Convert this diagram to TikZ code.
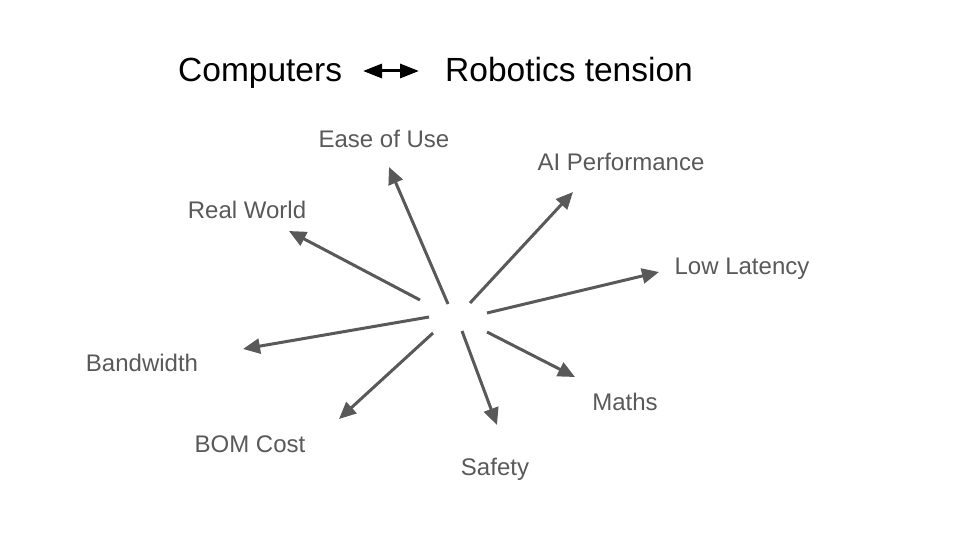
\documentclass[tikz,border=0pt]{standalone}
\usepackage{fontspec}
\setmainfont{Liberation Sans}
\usetikzlibrary{arrows.meta}
\definecolor{arrgray}{HTML}{595959}
\tikzset{
  lbl/.style={anchor=base, inner sep=0pt, text=arrgray, font=\fontsize{24}{28}\selectfont},
  ttl/.style={anchor=base, inner sep=0pt, text=black, font=\fontsize{33.5}{38}\selectfont},
  ray/.style={draw=arrgray, line width=3pt, -{Triangle[length=17pt,width=15pt]}},
  dbl/.style={draw=black, line width=3pt, {Triangle[length=19pt,width=14pt]}-{Triangle[length=19pt,width=14pt]}}
}
\begin{document}
\begin{tikzpicture}[x=1pt,y=-1pt]
\useasboundingbox (0,0) rectangle (960,540);
% title
\node[ttl, anchor=base west] (comp) at (178,81.5) {Computers};
\node[ttl, anchor=base west] (robo) at (445,81.5) {Robotics tension};
\coordinate (dl) at (363,71);
\coordinate (dr) at (419,71);
\draw[dbl] (dl) -- (dr);
% labels
\node[lbl] (ease) at (384,148) {Ease of Use};
\node[lbl] (ai) at (621,171) {AI Performance};
\node[lbl] (real) at (247,218) {Real World};
\node[lbl] (low) at (742,274) {Low Latency};
\node[lbl] (band) at (142,371) {Bandwidth};
\node[lbl] (maths) at (625,410) {Maths};
\node[lbl] (bom) at (250,452) {BOM Cost};
\node[lbl] (safe) at (495,475) {Safety};
% ray ends
\coordinate (sReal) at (420,300); \coordinate (tReal) at (289,231);
\coordinate (sEase) at (448,304); \coordinate (tEase) at (389,167);
\coordinate (sAI) at (470,303); \coordinate (tAI) at (573,192);
\coordinate (sLow) at (487,313); \coordinate (tLow) at (659,272);
\coordinate (sMaths) at (487,332); \coordinate (tMaths) at (575,377);
\coordinate (sSafe) at (462,331); \coordinate (tSafe) at (497,425);
\coordinate (sBom) at (433,333); \coordinate (tBom) at (339,419);
\coordinate (sBand) at (429,317); \coordinate (tBand) at (243,349);
\draw[ray] (sReal) -- (tReal);
\draw[ray] (sEase) -- (tEase);
\draw[ray] (sAI) -- (tAI);
\draw[ray] (sLow) -- (tLow);
\draw[ray] (sMaths) -- (tMaths);
\draw[ray] (sSafe) -- (tSafe);
\draw[ray] (sBom) -- (tBom);
\draw[ray] (sBand) -- (tBand);
\end{tikzpicture}
\end{document}
